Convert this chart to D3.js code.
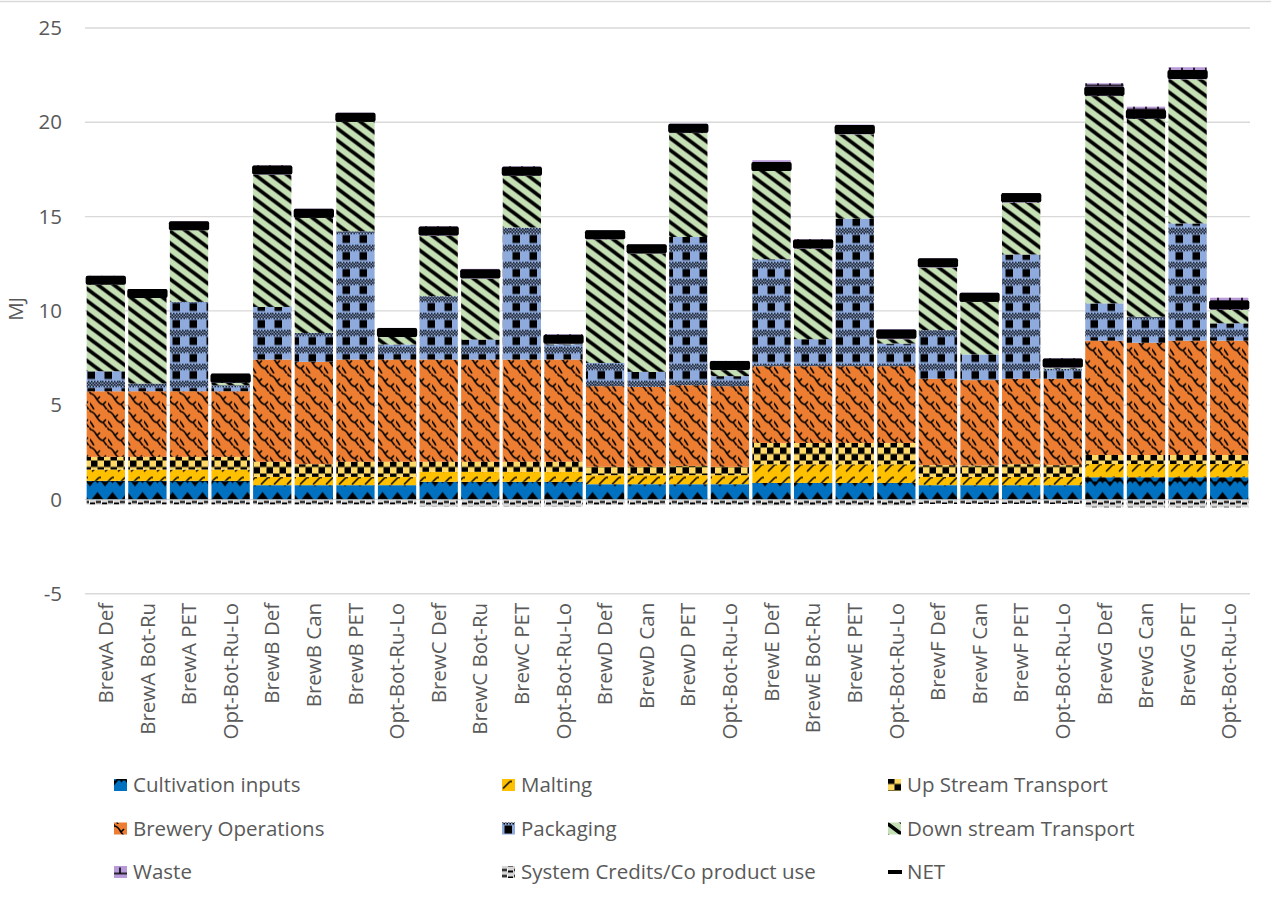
<!DOCTYPE html>
<html>
<head>
<meta charset="utf-8">
<script src="https://cdn.jsdelivr.net/npm/d3@7"></script>
<style>
  html, body { margin: 0; padding: 0; background: #ffffff; }
  svg { display: block; font-family: "Open Sans", sans-serif; }
</style>
</head>
<body>
<svg id="chart" width="1271" height="899"></svg>
<script>
// Energy demand per scenario (MJ), split by life-cycle stage
const categories = [
  "BrewA Def", "BrewA Bot-Ru", "BrewA PET", "Opt-Bot-Ru-Lo",
  "BrewB Def", "BrewB Can", "BrewB PET", "Opt-Bot-Ru-Lo",
  "BrewC Def", "BrewC Bot-Ru", "BrewC PET", "Opt-Bot-Ru-Lo",
  "BrewD Def", "BrewD Can", "BrewD PET", "Opt-Bot-Ru-Lo",
  "BrewE Def", "BrewE Bot-Ru", "BrewE PET", "Opt-Bot-Ru-Lo",
  "BrewF Def", "BrewF Can", "BrewF PET", "Opt-Bot-Ru-Lo",
  "BrewG Def", "BrewG Can", "BrewG PET", "Opt-Bot-Ru-Lo"
];
const cultivationInputs = [0.99,0.99,0.99,0.99, 0.76,0.76,0.76,0.76, 0.94,0.94,0.94,0.94, 0.81,0.81,0.81,0.81, 0.88,0.88,0.88,0.88, 0.76,0.76,0.76,0.76, 1.18,1.18,1.18,1.18];
const malting           = [0.60,0.60,0.60,0.60, 0.44,0.44,0.44,0.44, 0.53,0.53,0.53,0.53, 0.48,0.48,0.48,0.48, 0.99,0.99,0.99,0.99, 0.44,0.44,0.44,0.44, 0.70,0.70,0.70,0.70];
const upStreamTransport = [0.67,0.67,0.67,0.67, 0.80,0.67,0.80,0.80, 0.53,0.53,0.53,0.53, 0.44,0.44,0.49,0.44, 1.13,1.13,1.13,1.13, 0.62,0.60,0.67,0.62, 0.48,0.48,0.48,0.48];
const breweryOperations = [3.48,3.48,3.48,3.48, 5.42,5.43,5.42,5.42, 5.42,5.42,5.42,5.42, 4.28,4.24,4.28,4.28, 4.07,4.07,4.07,4.07, 4.58,4.53,4.53,4.58, 6.06,5.95,6.06,6.06];
const packaging         = [1.06,0.41,4.74,0.32, 2.79,1.53,6.80,0.80, 3.36,1.06,7.00,0.81, 1.23,0.80,7.86,0.53, 5.67,1.43,7.82,1.20, 2.58,1.36,6.59,0.54, 1.98,1.38,6.22,0.92];
const downStreamTransport = [4.60,4.54,3.80,0.12, 7.02,6.10,5.80,0.40, 3.20,3.23,2.74,0.03, 6.56,6.27,5.51,0.32, 4.68,4.80,4.47,0.23, 3.32,2.79,2.75,0.05, 10.99,10.49,7.64,0.71];
const waste             = [0.46,0.46,0.47,0.50, 0.49,0.49,0.49,0.48, 0.51,0.52,0.51,0.50, 0.48,0.49,0.50,0.49, 0.57,0.50,0.52,0.53, 0.49,0.49,0.51,0.50, 0.68,0.65,0.64,0.65];
const systemCredits     = [-0.27,-0.27,-0.27,-0.27, -0.27,-0.27,-0.27,-0.27, -0.38,-0.38,-0.38,-0.38, -0.28,-0.28,-0.28,-0.28, -0.31,-0.31,-0.31,-0.31, -0.24,-0.24,-0.24,-0.24, -0.42,-0.42,-0.42,-0.42];
const netTotal          = [11.63,10.92,14.52,6.43, 17.47,15.18,20.27,8.86, 14.23,11.97,17.41,8.50, 14.04,13.29,19.68,7.10, 17.66,13.55,19.62,8.77, 12.55,10.72,16.00,7.24, 21.64,20.43,22.53,10.31];

const seriesNames = [
  "Cultivation inputs", "Malting", "Up Stream Transport",
  "Brewery Operations", "Packaging", "Down stream Transport",
  "Waste", "System Credits/Co product use", "NET"
];
const yTicks = [-5, 0, 5, 10, 15, 20, 25];
const yTitle = "MJ";

// ---- layout ----
const W = 1271, H = 899;
const plot = { left: 85, right: 1250, top: 28, bottom: 593.8 };
const textColor = "#595959";
const gridColor = "#d9d9d9";
const fontSize = 20.5;

const svg = d3.select("#chart");

const x = d3.scaleBand()
  .domain(d3.range(categories.length))
  .range([plot.left, plot.right])
  .paddingInner(0.08)
  .paddingOuter(0.04);

const y = d3.scaleLinear().domain([-5, 25]).range([plot.bottom, plot.top]);
const y0 = y(0);

// ---- fill patterns ----
const defs = svg.append("defs");
function pattern(id, w, h, bg, draw) {
  const p = defs.append("pattern")
    .attr("id", id)
    .attr("patternUnits", "userSpaceOnUse")
    .attr("x", 0).attr("y", y0)
    .attr("width", w).attr("height", h);
  p.append("rect").attr("width", w).attr("height", h).attr("fill", bg);
  draw(p);
  return `url(#${id})`;
}

const fills = {};
fills.cultivation = pattern("p-cult", 15, 18, "#0070c0", p => {
  p.append("path").attr("fill", "#000").attr("d", "M1.5,18 L7.5,10.5 L13.5,18 Z");
  p.append("path").attr("fill", "#000").attr("d", "M0,0 L4,0 L0,5 Z M15,0 L11,0 L15,5 Z M6,0 L9,0 L7.5,2 Z");
});
fills.malting = pattern("p-malt", 13, 13, "#ffc000", p => {
  p.append("path").attr("stroke", "#000").attr("stroke-width", 1.5).attr("fill", "none")
    .attr("d", "M1,11 L8,4 M8,4 L10,4");
});
fills.upstream = pattern("p-up", 13, 13, "#ffd966", p => {
  p.append("rect").attr("x", 0).attr("y", 0).attr("width", 6.5).attr("height", 6.5).attr("fill", "#000");
  p.append("rect").attr("x", 6.5).attr("y", 6.5).attr("width", 6.5).attr("height", 6.5).attr("fill", "#000");
});
fills.brewery = pattern("p-brew", 18, 18, "#ed7d31", p => {
  p.append("path").attr("stroke", "#000").attr("stroke-width", 1.6).attr("fill", "none")
    .attr("d", "M0,2 C4,2 5,5 7,8 S11,13 13,13 L16,10 M13,13 C15,15 16,17 18,20 M-5,-4 C-1,-4 0,0 0,2 M18,2 C18,-1 20,-2 22,-2 M7,8 L10,5 M-2,14 L0,12 C2,14 3,16 4,18");
});
fills.packaging = pattern("p-pack", 17, 17, "#8faadc", p => {
  for (let r = 0; r < 4; r++) {
    for (let c = 0; c < 12; c++) {
      if ((r + c) % 2 === 0) {
        p.append("rect").attr("x", c * 1.5).attr("y", 0.5 + r * 1.5).attr("width", 1.5).attr("height", 1.5).attr("fill", "#000");
      }
    }
  }
  p.append("rect").attr("x", 2.5).attr("y", 7.5).attr("width", 7.5).attr("height", 8).attr("fill", "#000");
});
fills.downstream = pattern("p-down", 16, 12, "#c5e0b4", p => {
  p.append("path").attr("stroke", "#000").attr("stroke-width", 3.7).attr("fill", "none")
    .attr("d", "M-4,-3 L20,15 M-4,-15 L20,3 M-4,9 L20,27");
});
fills.waste = pattern("p-waste", 12, 12, "#b99ad9", p => {
  p.append("path").attr("stroke", "#000").attr("stroke-width", 1.6).attr("fill", "none")
    .attr("d", "M0,6 L12,6 M6,6 L6,0");
});
fills.credits = pattern("p-cred", 12, 6, "#d6d6d6", p => {
  p.append("rect").attr("x", 0).attr("y", 1.5).attr("width", 5).attr("height", 2).attr("fill", "#000");
  p.append("rect").attr("x", 6).attr("y", 3).attr("width", 5).attr("height", 2).attr("fill", "#000");
  p.append("rect").attr("x", 5).attr("y", 1).attr("width", 1).attr("height", 3).attr("fill", "#fff");
});

const keys = ["cultivation", "malting", "upstream", "brewery", "packaging", "downstream", "waste", "credits"];
const table = categories.map((c, i) => ({
  index: i,
  cultivation: cultivationInputs[i],
  malting: malting[i],
  upstream: upStreamTransport[i],
  brewery: breweryOperations[i],
  packaging: packaging[i],
  downstream: downStreamTransport[i],
  waste: waste[i],
  credits: systemCredits[i],
  net: netTotal[i]
}));

// ---- chart border and gridlines ----
svg.append("line")
  .attr("x1", 0).attr("x2", W).attr("y1", 1.5).attr("y2", 1.5)
  .attr("stroke", gridColor).attr("stroke-width", 1.3);

svg.append("g").selectAll("line").data(yTicks).join("line")
  .attr("x1", plot.left).attr("x2", plot.right)
  .attr("y1", d => y(d)).attr("y2", d => y(d))
  .attr("stroke", gridColor).attr("stroke-width", 1.4);

// ---- y axis ----
const yAxis = svg.append("g")
  .attr("transform", `translate(${plot.left},0)`)
  .call(d3.axisLeft(y).tickValues(yTicks).tickSize(0).tickPadding(23).tickFormat(d => String(d)));
yAxis.select(".domain").remove();
yAxis.selectAll("text")
  .attr("fill", textColor)
  .style("font-size", fontSize + "px")
  .style("font-family", "'Open Sans', sans-serif");

svg.append("text")
  .attr("transform", `translate(16,${(plot.top + plot.bottom) / 2 - 2}) rotate(-90)`)
  .attr("text-anchor", "middle")
  .attr("dy", "0.35em")
  .attr("fill", textColor)
  .style("font-size", fontSize + "px")
  .text(yTitle);

// ---- x axis labels ----
const xAxis = svg.append("g")
  .attr("transform", `translate(0,${plot.bottom})`)
  .call(d3.axisBottom(x).tickSize(0).tickFormat(i => categories[i]));
xAxis.select(".domain").remove();
xAxis.selectAll("text")
  .attr("fill", textColor)
  .style("font-size", fontSize + "px")
  .style("font-family", "'Open Sans', sans-serif")
  .attr("text-anchor", "end")
  .attr("transform", "rotate(-90)")
  .attr("x", -9)
  .attr("y", 0)
  .attr("dy", "0.35em");

// ---- stacked bars ----
const stacked = d3.stack().keys(keys).offset(d3.stackOffsetDiverging)(table);
svg.append("g").selectAll("g").data(stacked).join("g")
  .attr("fill", s => fills[s.key])
  .selectAll("rect").data(s => s).join("rect")
  .attr("x", d => x(d.data.index))
  .attr("width", x.bandwidth())
  .attr("y", d => y(Math.max(d[0], d[1])))
  .attr("height", d => Math.abs(y(d[0]) - y(d[1])));

// ---- NET markers (dash) ----
const markH = 9;
svg.append("g").selectAll("rect").data(table).join("rect")
  .attr("x", d => x(d.index) - 1)
  .attr("width", x.bandwidth() + 2)
  .attr("y", d => y(d.net) - markH / 2)
  .attr("height", markH)
  .attr("rx", 2)
  .attr("fill", "#000");

// ---- legend ----
const legendCols = [114, 502, 888];
const legendRows = [785, 828.5, 872];
const legendFills = [fills.cultivation, fills.malting, fills.upstream,
                     fills.brewery, fills.packaging, fills.downstream,
                     fills.waste, fills.credits, null];
const legend = svg.append("g").selectAll("g").data(seriesNames).join("g")
  .attr("transform", (d, i) => `translate(${legendCols[i % 3]},${legendRows[Math.floor(i / 3)]})`);
legend.each(function (d, i) {
  const g = d3.select(this);
  if (legendFills[i]) {
    g.append("rect").attr("x", 0).attr("y", -6).attr("width", 13).attr("height", 12)
      .attr("fill", legendFills[i]);
  } else {
    g.append("rect").attr("x", 0).attr("y", -2).attr("width", 14).attr("height", 4).attr("fill", "#000");
  }
  g.append("text")
    .attr("x", 19)
    .attr("dy", "0.35em")
    .attr("fill", textColor)
    .style("font-size", fontSize + "px")
    .text(d);
});
</script>
</body>
</html>
